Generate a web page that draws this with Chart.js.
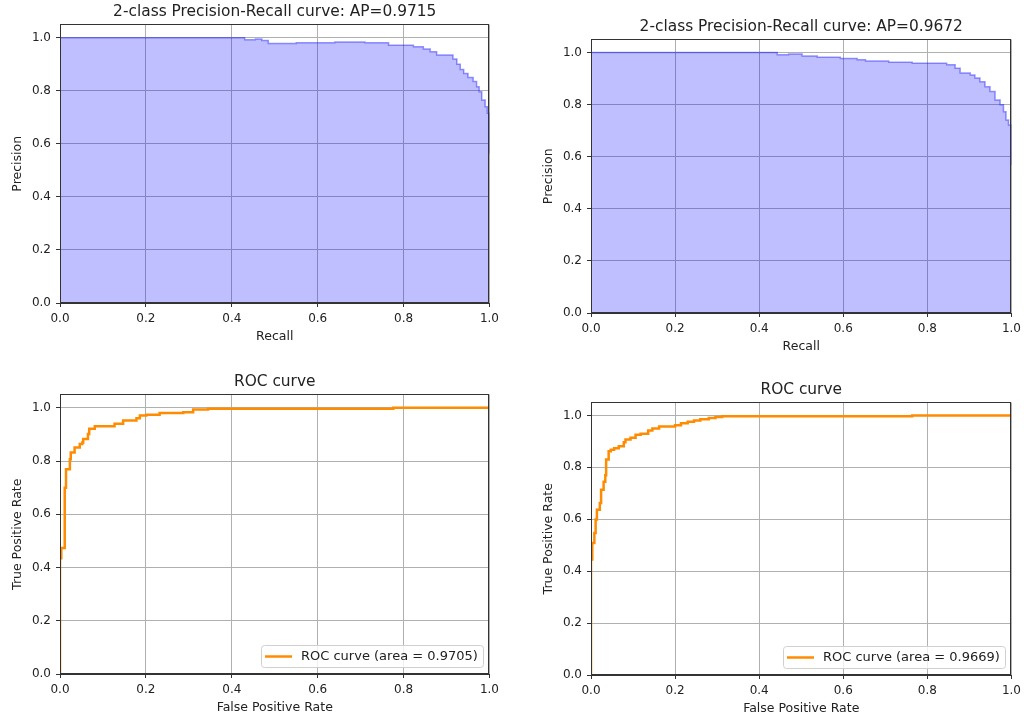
<!DOCTYPE html>
<html>
<head>
<meta charset="utf-8">
<script src="https://cdn.jsdelivr.net/npm/chart.js@4.4.0/dist/chart.umd.min.js"></script>
<style>
  html, body { margin: 0; padding: 0; background: #fff; }
  body { width: 1024px; height: 717px; position: relative; overflow: hidden; }
  .box { position: absolute; }
</style>
</head>
<body>
<div class="box" style="left:0px;top:0px;width:504px;height:345px"><canvas id="pr1"></canvas></div>
<div class="box" style="left:531px;top:15px;width:495px;height:340px"><canvas id="pr2"></canvas></div>
<div class="box" style="left:0px;top:370px;width:504px;height:346px"><canvas id="roc1"></canvas></div>
<div class="box" style="left:531px;top:378px;width:495px;height:339px"><canvas id="roc2"></canvas></div>
<script>
// shared ticks for both axes
var axisTicks = [0, 0.2, 0.4, 0.6, 0.8, 1.0];

// precision-recall, left model (value changes at given recall)
var pr1Recall    = [0, 0.43, 0.455, 0.47, 0.485, 0.55, 0.64, 0.71, 0.765, 0.823, 0.846, 0.862, 0.877, 0.915, 0.924, 0.932, 0.94, 0.95, 0.962, 0.97, 0.976, 0.982, 0.99, 0.995, 1.0];
var pr1Precision = [1.0, 0.992, 0.995, 0.99, 0.978, 0.981, 0.984, 0.981, 0.972, 0.966, 0.958, 0.947, 0.935, 0.92, 0.90, 0.88, 0.865, 0.85, 0.835, 0.815, 0.796, 0.765, 0.74, 0.715, 0.564];

// precision-recall, right model
var pr2Recall    = [0, 0.443, 0.47, 0.502, 0.538, 0.593, 0.633, 0.653, 0.708, 0.764, 0.846, 0.866, 0.878, 0.902, 0.913, 0.925, 0.937, 0.949, 0.961, 0.973, 0.981, 0.987, 0.993, 1.0];
var pr2Precision = [1.0, 0.991, 0.994, 0.987, 0.982, 0.977, 0.972, 0.967, 0.963, 0.959, 0.953, 0.940, 0.921, 0.914, 0.902, 0.888, 0.869, 0.850, 0.818, 0.799, 0.773, 0.741, 0.722, 0.568];

// ROC, left model
var roc1Fpr = [0, 0, 0.003, 0.011, 0.011, 0.014, 0.023, 0.025, 0.034, 0.046, 0.052, 0.054, 0.065, 0.068, 0.081, 0.127, 0.147, 0.178, 0.186, 0.201, 0.232, 0.287, 0.310, 0.345, 0.776, 1.0];
var roc1Tpr = [0, 0.435, 0.473, 0.486, 0.70, 0.769, 0.807, 0.832, 0.851, 0.864, 0.870, 0.883, 0.902, 0.921, 0.931, 0.940, 0.952, 0.961, 0.971, 0.974, 0.980, 0.983, 0.994, 0.996, 1.0, 1.0];

// ROC, right model
var roc2Fpr = [0, 0, 0.003, 0.008, 0.011, 0.014, 0.021, 0.024, 0.030, 0.034, 0.036, 0.042, 0.047, 0.055, 0.066, 0.078, 0.082, 0.094, 0.106, 0.118, 0.136, 0.146, 0.162, 0.2, 0.214, 0.230, 0.245, 0.260, 0.28, 0.296, 0.312, 0.764, 1.0];
var roc2Tpr = [0, 0.445, 0.509, 0.547, 0.599, 0.637, 0.663, 0.714, 0.745, 0.770, 0.83, 0.862, 0.868, 0.874, 0.881, 0.897, 0.907, 0.914, 0.926, 0.930, 0.942, 0.950, 0.957, 0.962, 0.970, 0.976, 0.981, 0.985, 0.990, 0.994, 0.997, 1.0, 1.0];

var prTitles = ['2-class Precision-Recall curve: AP=0.9715', '2-class Precision-Recall curve: AP=0.9672'];
var rocLabels = ['ROC curve (area = 0.9705)', 'ROC curve (area = 0.9669)'];

var FONT = '"DejaVu Sans", sans-serif';
var INK = '#222';

function points(xs, ys) {
  return xs.map(function(x, i) { return { x: x, y: ys[i] }; });
}

// matplotlib style box round the axes
var framePlugin = {
  id: 'frame',
  afterDatasetsDraw: function(chart) {
    var a = chart.chartArea, ctx = chart.ctx;
    var l = Math.round(a.left) + 0.5, t = Math.round(a.top) + 0.5;
    var r = Math.round(a.right) - 0.5, b = Math.round(a.bottom) - 0.5;
    ctx.save();
    ctx.strokeStyle = '#333';
    ctx.lineWidth = 1;
    ctx.strokeRect(l, t, r - l, b - t);
    ctx.restore();
  }
};

// legend in the lower right corner of the plot
var cornerLegend = {
  id: 'cornerLegend',
  afterDraw: function(chart) {
    var ds = chart.data.datasets[0];
    var ctx = chart.ctx, a = chart.chartArea;
    ctx.save();
    ctx.font = '13px ' + FONT;
    var tw = ctx.measureText(ds.label).width;
    var w = Math.round(4 + 27 + 9 + tw + 5), h = 22;
    var x = Math.round(a.right - 6 - w), y = Math.round(a.bottom - 7 - h);
    ctx.beginPath();
    ctx.roundRect(x + 0.5, y + 0.5, w, h, 3);
    ctx.fillStyle = 'rgba(255,255,255,0.8)';
    ctx.fill();
    ctx.strokeStyle = '#d0d0d0';
    ctx.lineWidth = 1;
    ctx.stroke();
    ctx.strokeStyle = ds.borderColor;
    ctx.lineWidth = ds.borderWidth;
    ctx.beginPath();
    ctx.moveTo(x + 4, y + h / 2 + 0.5);
    ctx.lineTo(x + 31, y + h / 2 + 0.5);
    ctx.stroke();
    ctx.fillStyle = INK;
    ctx.textBaseline = 'middle';
    ctx.fillText(ds.label, x + 40, y + h / 2 + 1);
    ctx.restore();
  }
};

function axis(titleText, isX) {
  var s = {
    type: 'linear',
    min: 0,
    max: isX ? 1 : 1.05,
    afterBuildTicks: function(sc) { sc.ticks = axisTicks.map(function(v) { return { value: v }; }); },
    grid: { color: '#b0b0b0', tickColor: '#333', tickLength: 4 },
    border: { color: '#333' },
    ticks: {
      color: INK, autoSkip: false, maxRotation: 0,
      font: { size: 12, family: FONT },
      padding: 5,
      callback: function(v) { return Number(v).toFixed(1); }
    },
    title: {
      display: true, text: titleText, color: INK,
      font: { size: 12.5, family: FONT },
      padding: isX ? { top: 0, bottom: 1 } : { top: 10.5, bottom: 0 }
    }
  };
  if (isX) s.afterFit = function(sc) { sc.height = 42; };
  else s.afterFit = function(sc) { sc.width = 60; };
  return s;
}

function makeChart(id, title, xTitle, yTitle, dataset, withLegend) {
  return new Chart(document.getElementById(id), {
    type: 'line',
    data: { datasets: [dataset] },
    options: {
      responsive: true,
      maintainAspectRatio: false,
      animation: false,
      layout: { padding: { left: 0, right: 12, top: 0, bottom: 0 } },
      plugins: {
        legend: { display: false },
        tooltip: { enabled: false },
        title: {
          display: true, text: title, color: INK, fullSize: false,
          font: { size: 15.4, family: FONT, weight: 'normal' },
          padding: { top: 3, bottom: 3 }
        }
      },
      scales: { x: axis(xTitle, true), y: axis(yTitle, false) }
    },
    plugins: withLegend ? [framePlugin, cornerLegend] : [framePlugin]
  });
}

function prSet(rec, prec) {
  return {
    label: 'Precision',
    data: points(rec, prec),
    stepped: 'before',
    borderColor: 'rgba(0,0,255,0.4)',
    borderWidth: 1.5,
    backgroundColor: 'rgba(0,0,255,0.25)',
    fill: 'origin',
    pointRadius: 0
  };
}

function rocSet(label, fpr, tpr) {
  return {
    label: label,
    data: points(fpr, tpr),
    stepped: 'before',
    borderColor: '#ff8c00',
    borderWidth: 2.5,
    fill: false,
    pointRadius: 0
  };
}

makeChart('pr1', prTitles[0], 'Recall', 'Precision', prSet(pr1Recall, pr1Precision), false);
makeChart('pr2', prTitles[1], 'Recall', 'Precision', prSet(pr2Recall, pr2Precision), false);
makeChart('roc1', 'ROC curve', 'False Positive Rate', 'True Positive Rate', rocSet(rocLabels[0], roc1Fpr, roc1Tpr), true);
makeChart('roc2', 'ROC curve', 'False Positive Rate', 'True Positive Rate', rocSet(rocLabels[1], roc2Fpr, roc2Tpr), true);
</script>
</body>
</html>
